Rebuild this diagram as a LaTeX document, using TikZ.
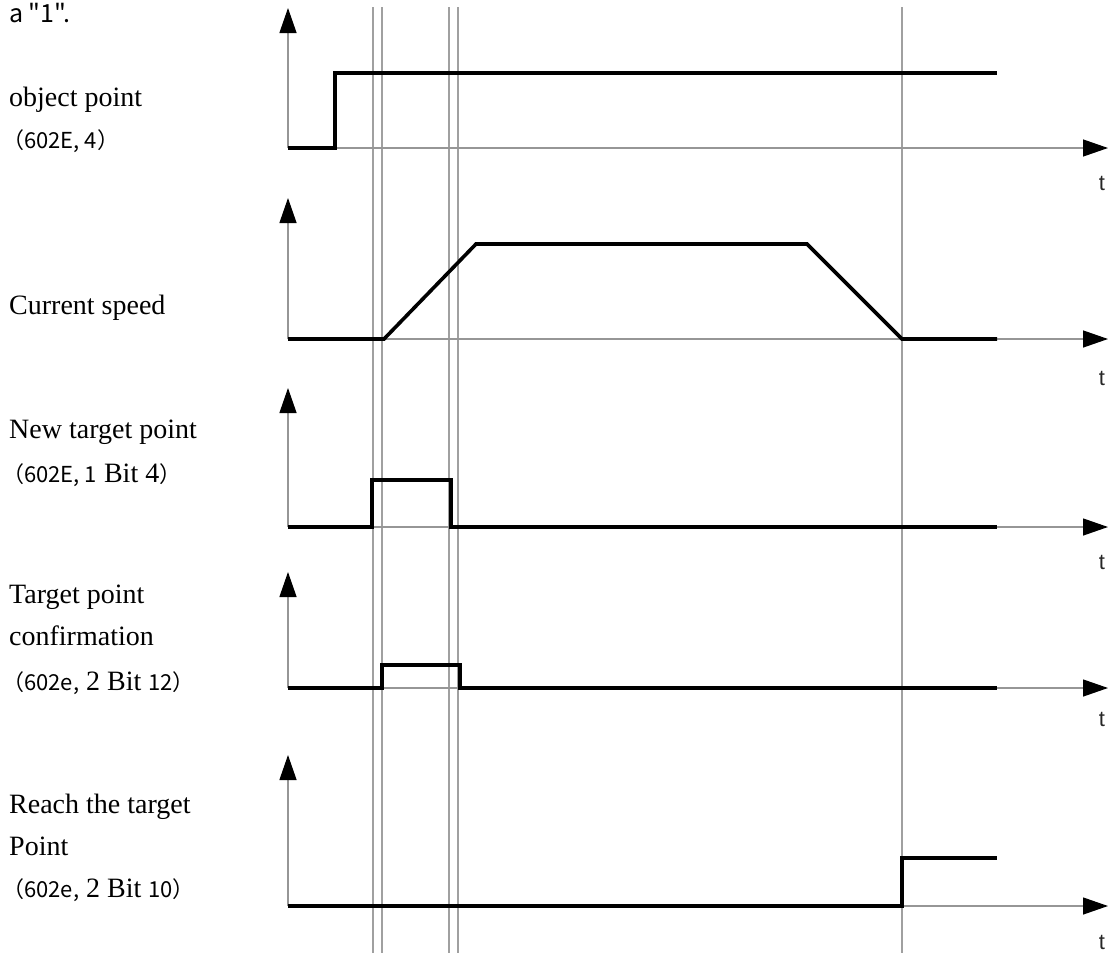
\documentclass[tikz,border=0pt]{standalone}
\usepackage{fontspec}
\setmainfont{Liberation Serif}
\newfontfamily\cjk[RawFeature=+halt]{Noto Sans CJK SC}
\newfontfamily\tfont{Liberation Sans}
\usetikzlibrary{arrows.meta}
\definecolor{axisgray}{RGB}{150,150,150}
\definecolor{gridgray}{RGB}{160,160,160}
\tikzset{
  lab/.style={anchor=base west, inner sep=0pt, font=\fontsize{28bp}{42bp}\selectfont},
  cj/.style={anchor=base west, inner sep=0pt, font=\cjk\fontsize{22bp}{42bp}\selectfont},
  tlab/.style={inner sep=0pt, font=\tfont\fontsize{22bp}{24bp}\selectfont, text=black!85},
  axis/.style={draw=axisgray, line width=1.3bp, -{Triangle[length=25bp,width=17bp,color=black]}},
  grid/.style={draw=gridgray, line width=1.3bp},
  sig/.style={draw=black, line width=3.6bp, line join=miter}
}
\newcommand{\sj}[1]{{\cjk\fontsize{22bp}{42bp}\selectfont #1}}
\begin{document}
\begin{tikzpicture}[x=1bp,y=-1bp]
\useasboundingbox (0,0) rectangle (1108,953);
% vertical reference lines
\foreach \xx in {373,382,449,458,902}
  \draw[grid] (\xx,7) -- (\xx,953);
% panel axes
\foreach \b/\tp/\tl [count=\i] in {148/8/183, 339/198/378, 527/388/562, 688/572/719, 906/755/942}{
  \coordinate (o\i) at (288,\b);
  \coordinate (xe\i) at (1108,\b);
  \coordinate (ye\i) at (288,\tp);
  \draw[axis] (o\i) -- (xe\i);
  \draw[axis] (o\i) -- (ye\i);
  \node[tlab] (t\i) at (1102,\tl) {t};
}
% signals
\draw[sig] (288,148) -- (335,148) -- (335,73) -- (997,73);
\draw[sig] (288,339) -- (384,339) -- (476,244) -- (807,244) -- (902,339) -- (997,339);
\draw[sig] (288,527) -- (372,527) -- (372,480) -- (451,480) -- (451,527) -- (997,527);
\draw[sig] (288,688) -- (382,688) -- (382,665) -- (460,665) -- (460,688) -- (997,688);
\draw[sig] (288,906) -- (902,906) -- (902,858) -- (997,858);
% labels
\node[anchor=base west, inner sep=0pt, font=\cjk\fontsize{25bp}{30bp}\selectfont] (top) at (9,22) {a "1".};
\node[lab] (l1a) at (9,106) {object point};
\node[cj] (l1b) at (13,148) {（602E, 4）};
\node[lab] (l2a) at (9,314) {Current speed};
\node[lab] (l3a) at (9,438) {New target point};
\node[lab] (l3b) at (13,482) {\sj{（602E, 1} Bit 4\sj{）}};
\node[lab] (l4a) at (9,603) {Target point};
\node[lab] (l4b) at (9,645) {confirmation};
\node[lab] (l4c) at (13,690) {\sj{（602e,} 2 Bit \sj{12）}};
\node[lab] (l5a) at (9,813) {Reach the target};
\node[lab] (l5b) at (9,855) {Point};
\node[lab] (l5c) at (13,897) {\sj{（602e,} 2 Bit \sj{10）}};
\end{tikzpicture}
\end{document}
